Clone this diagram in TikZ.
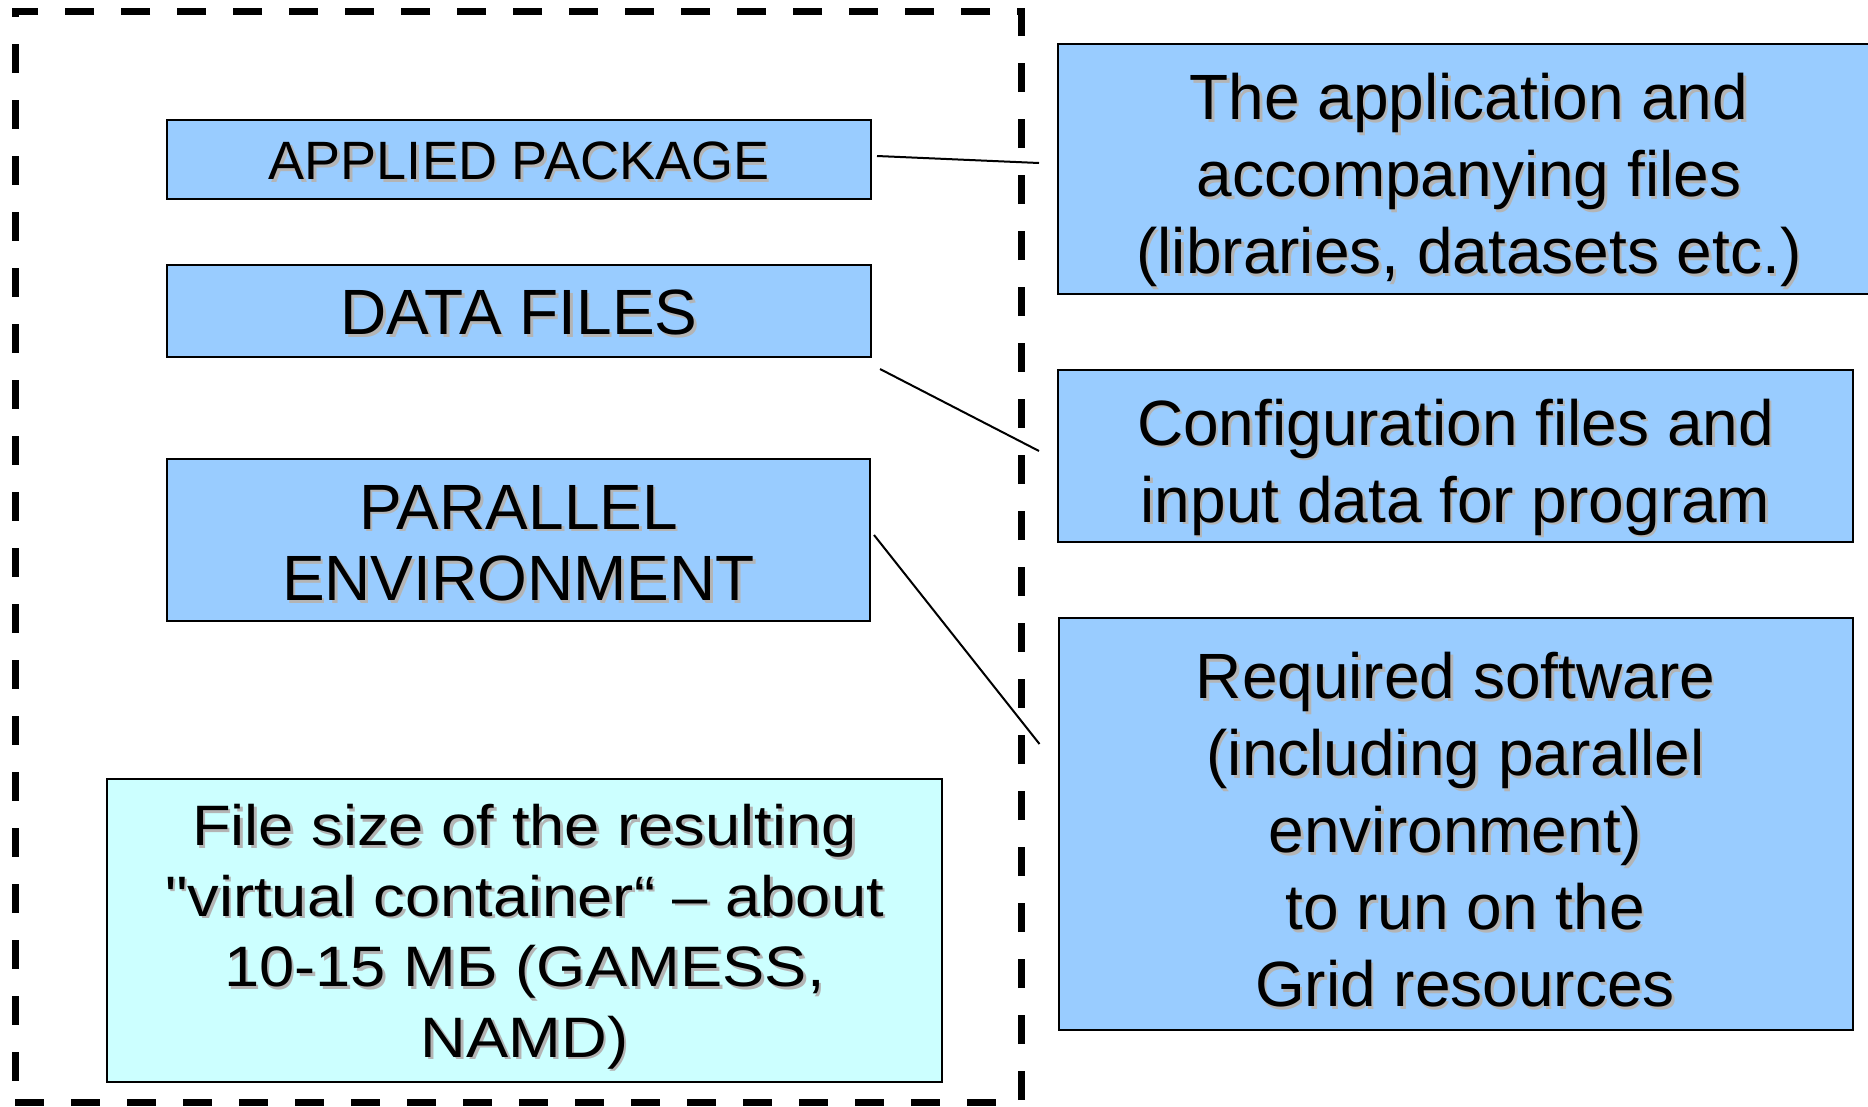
\documentclass[tikz,border=0pt]{standalone}
\usepackage{fontspec}
\newfontfamily\boxfont{Liberation Sans}
\newfontfamily\notefont{Liberation Sans}[FakeStretch=1.11]
\usepackage{xcolor}
\definecolor{boxblue}{HTML}{99CCFF}
\definecolor{boxcyan}{HTML}{CCFFFF}
\definecolor{shade}{HTML}{B4B4B4}
\newcommand{\shtext}[1]{\makebox[0pt][l]{\hspace{2.5pt}\raisebox{-2.5pt}{\color{shade}#1}}#1}
\newcommand{\topgap}[1]{\rule{0pt}{#1}}
\tikzset{
 blockbox/.style={draw=black,line width=2pt,fill=boxblue,align=center,inner sep=0pt},
 notebox/.style={blockbox,fill=boxcyan},
 bigtext/.style={font=\boxfont\fontsize{64pt}{77pt}\selectfont},
 midtext/.style={font=\boxfont\fontsize{64pt}{71.5pt}\selectfont},
 smalltext/.style={font=\boxfont\fontsize{54pt}{64pt}\selectfont},
 notetext/.style={font=\notefont\fontsize{57pt}{70.5pt}\selectfont},
 framebox/.style={draw=black,line width=7pt,dash pattern=on 29pt off 27pt,inner sep=0pt},
 link/.style={draw=black,line width=2pt},
}

\begin{document}
\begin{tikzpicture}[x=1pt,y=-1pt]
        \useasboundingbox (0,0) rectangle (1868,1106);
        % the virtual container
        \node[framebox,minimum width=1006pt,minimum height=1091pt] (vc) at (518,556.5) {};

        \node[blockbox,smalltext,minimum width=704pt,minimum height=79pt] (applied) at (519,159.5) {\topgap{44pt}\shtext{APPLIED PACKAGE}};
        \node[blockbox,midtext,minimum width=704pt,minimum height=92pt] (datafiles) at (519,311) {\topgap{51pt}\shtext{DATA FILES}};
        \node[blockbox,midtext,minimum width=703pt,minimum height=162pt] (parallel) at (518.5,540) {\topgap{53pt}\shtext{PARALLEL}\\\shtext{ENVIRONMENT}};
        \node[notebox,notetext,minimum width=835pt,minimum height=303pt] (filesize) at (524.5,930.5)
            {\topgap{56pt}\shtext{File size of the resulting}\\\shtext{"virtual container“ – about}\\\shtext{10-15 МБ (GAMESS,}\\\shtext{NAMD)}};

        % descriptions
        \node[blockbox,bigtext,minimum width=822pt,minimum height=250pt] (appfiles) at (1469,169)
            {\topgap{71pt}\shtext{The application and}\\\shtext{accompanying files}\\\shtext{(libraries, datasets etc.)}};
        \node[blockbox,bigtext,minimum width=795pt,minimum height=172pt] (config) at (1455.5,456)
            {\topgap{71pt}\shtext{Configuration files and}\\\shtext{input data for program}};
        \node[blockbox,bigtext,minimum width=794pt,minimum height=412pt] (software) at (1455.5,824)
            {\topgap{61pt}\shtext{Required software}\\\shtext{(including parallel}\\\shtext{environment)}\\\hspace*{19pt}\shtext{to run on the}\\\hspace*{19pt}\shtext{Grid resources}};

        \draw[link] ([xshift=5pt,yshift=3.5pt]applied.east) -- ([xshift=-18pt,yshift=6pt]appfiles.west);
        \draw[link] ([xshift=8pt,yshift=-11pt]datafiles.south east) -- ([xshift=-18pt,yshift=5pt]config.west);
        \draw[link] ([xshift=3pt,yshift=5pt]parallel.east) -- ([xshift=-18pt,yshift=-127pt]software.north west);
    \end{tikzpicture}
\end{document}
